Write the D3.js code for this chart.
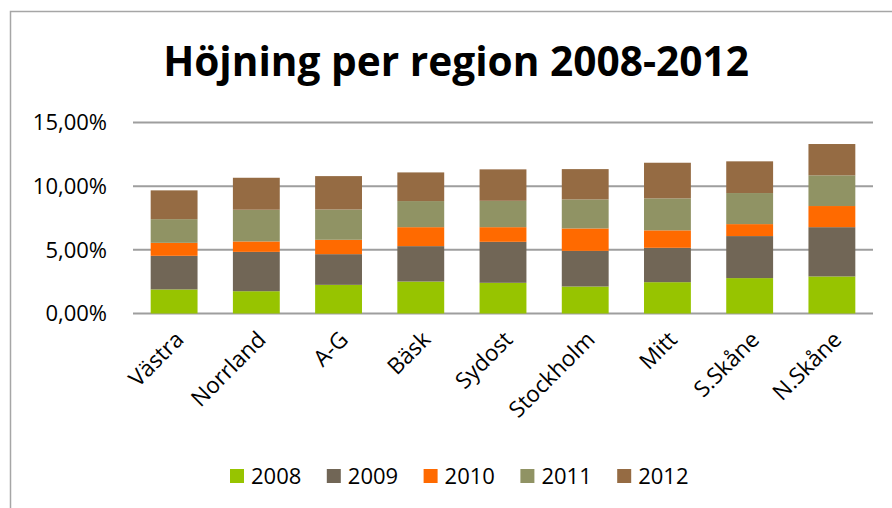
<!DOCTYPE html>
<html>
<head>
<meta charset="utf-8">
<title>Höjning per region 2008-2012</title>
<script src="https://d3js.org/d3.v7.min.js"></script>
<style>
    body { margin: 0; background: #fff; }
    svg text { font-family: "Open Sans", sans-serif; fill: #000; }
</style>
</head>
<body>
<svg id="chart" width="892" height="508"></svg>
<script>
// Data (percent)
var regions = ["Västra", "Norrland", "A-G", "Bäsk", "Sydost", "Stockholm", "Mitt", "S.Skåne", "N.Skåne"];
var years = ["2008", "2009", "2010", "2011", "2012"];
var v2008 = [1.89, 1.75, 2.25, 2.51, 2.41, 2.12, 2.46, 2.78, 2.91];
var v2009 = [2.64, 3.09, 2.41, 2.78, 3.22, 2.80, 2.70, 3.30, 3.87];
var v2010 = [1.02, 0.82, 1.13, 1.49, 1.15, 1.76, 1.37, 0.94, 1.66];
var v2011 = [1.86, 2.49, 2.38, 2.05, 2.07, 2.28, 2.51, 2.44, 2.41];
var v2012 = [2.26, 2.51, 2.62, 2.25, 2.47, 2.38, 2.80, 2.49, 2.46];
var yTicks = [0, 5, 10, 15];

var colors = ["#97c400", "#716656", "#ff6a00", "#909364", "#956b43"];

// build rows for stacking
var series = [v2008, v2009, v2010, v2011, v2012];
var rows = regions.map(function (r, i) {
    var row = { region: r };
    years.forEach(function (y, k) { row[y] = series[k][i]; });
    return row;
});

var svg = d3.select("#chart");

// outer frame
svg.append("rect")
    .attr("x", 10.5).attr("y", 11.5)
    .attr("width", 900).attr("height", 520)
    .attr("fill", "none")
    .attr("stroke", "#a6a6a6")
    .attr("stroke-width", 1.5);

var x = d3.scaleBand()
    .domain(regions)
    .range([133, 873])
    .paddingInner(0.43)
    .paddingOuter(0.215);

var y = d3.scaleLinear()
    .domain([0, 15])
    .range([313.5, 122.5]);

var sv = d3.formatLocale({ decimal: ",", thousands: " ", grouping: [3], currency: ["", " kr"] });
var fmt = sv.format(".2f");

// gridlines
svg.append("g")
    .selectAll("line")
    .data(yTicks)
    .enter()
    .append("line")
    .attr("x1", 133).attr("x2", 873)
    .attr("y1", function (d) { return y(d); })
    .attr("y2", function (d) { return y(d); })
    .attr("stroke", "#9e9e9e")
    .attr("stroke-width", 2);

// y labels
svg.append("g")
    .selectAll("text")
    .data(yTicks)
    .enter()
    .append("text")
    .attr("x", 107)
    .attr("y", function (d) { return y(d); })
    .attr("dy", "0.36em")
    .attr("text-anchor", "end")
    .style("font-size", "22px")
    .text(function (d) { return fmt(d) + "%"; });

// stacked bars
var stacked = d3.stack().keys(years)(rows);

var layer = svg.append("g")
    .selectAll("g")
    .data(stacked)
    .enter()
    .append("g")
    .attr("fill", function (d, i) { return colors[i]; });

layer.selectAll("rect")
    .data(function (d) { return d; })
    .enter()
    .append("rect")
    .attr("x", function (d) { return x(d.data.region); })
    .attr("width", x.bandwidth())
    .attr("y", function (d) { return y(d[1]); })
    .attr("height", function (d) { return y(d[0]) - y(d[1]); });

// x labels, rotated
svg.append("g")
    .selectAll("text")
    .data(regions)
    .enter()
    .append("text")
    .attr("transform", function (d) {
        return "translate(" + (x(d) + x.bandwidth() / 2 + 11) + ",341) rotate(-45)";
    })
    .attr("text-anchor", "end")
    .style("font-size", "22.5px")
    .text(function (d) { return d; });

// title, fitted to the reference width
var title = svg.append("text")
    .attr("x", 456)
    .attr("y", 76)
    .attr("text-anchor", "middle")
    .style("font-weight", "bold")
    .style("font-size", "44px")
    .text("Höjning per region 2008-2012");
var tw = title.node().getComputedTextLength();
title.style("font-size", (44 * 586 / tw) + "px");

// legend
var legend = svg.append("g")
    .selectAll("g")
    .data(years)
    .enter()
    .append("g")
    .attr("transform", function (d, i) { return "translate(" + (230 + i * 96.8) + ",469)"; });

legend.append("rect")
    .attr("width", 14).attr("height", 14)
    .attr("fill", function (d, i) { return colors[i]; });

legend.append("text")
    .attr("x", 21)
    .attr("y", 15)
    .style("font-size", "22px")
    .text(function (d) { return d; });
</script>
</body>
</html>
